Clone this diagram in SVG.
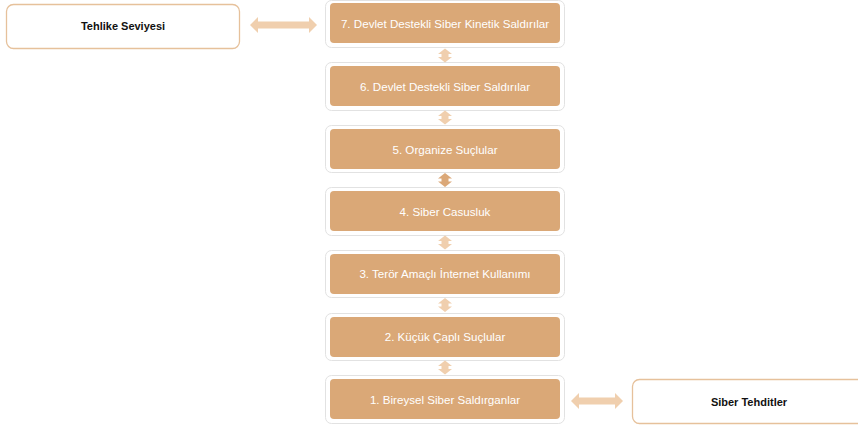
<svg xmlns="http://www.w3.org/2000/svg" width="858" height="426" viewBox="0 0 858 426">
<defs>
<style>
.outer{fill:#ffffff;stroke:#e2e2e2;stroke-width:1}
.inner{fill:#daa877;stroke:none}
.lbl{font-family:"Liberation Sans",Arial,sans-serif;font-size:11.6px;fill:#ffffff;text-anchor:middle;dominant-baseline:central}
.side{fill:#ffffff;stroke:#e6c19b;stroke-width:1.3}
.slbl{font-family:"Liberation Sans",Arial,sans-serif;font-size:11px;font-weight:bold;fill:#111111;text-anchor:middle;dominant-baseline:central}
.arr{fill:#f0cfae}
.arrd{fill:#dba878}
</style>
</defs>
<rect width="858" height="426" fill="#ffffff"/>
<g id="n7"><rect class="outer" x="325.5" y="0.5" width="239" height="47" rx="6"/><rect class="inner" x="330" y="3" width="230" height="40" rx="4"/><text class="lbl" x="445" y="23">7. Devlet Destekli Siber Kinetik Saldırılar</text></g>
<g id="n6"><rect class="outer" x="325.5" y="62.5" width="239" height="48" rx="6"/><rect class="inner" x="330" y="66" width="230" height="40" rx="4"/><text class="lbl" x="445" y="86">6. Devlet Destekli Siber Saldırılar</text></g>
<g id="n5"><rect class="outer" x="325.5" y="125.5" width="239" height="47" rx="6"/><rect class="inner" x="330" y="129" width="230" height="40" rx="4"/><text class="lbl" x="445" y="149">5. Organize Suçlular</text></g>
<g id="n4"><rect class="outer" x="325.5" y="187.5" width="239" height="48" rx="6"/><rect class="inner" x="330" y="191" width="230" height="40" rx="4"/><text class="lbl" x="445" y="211">4. Siber Casusluk</text></g>
<g id="n3"><rect class="outer" x="325.5" y="250.5" width="239" height="47" rx="6"/><rect class="inner" x="330" y="254" width="230" height="40" rx="4"/><text class="lbl" x="445" y="273">3. Terör Amaçlı İnternet Kullanımı</text></g>
<g id="n2"><rect class="outer" x="325.5" y="313.5" width="239" height="47" rx="6"/><rect class="inner" x="330" y="317" width="230" height="40" rx="4"/><text class="lbl" x="445" y="336">2. Küçük Çaplı Suçlular</text></g>
<g id="n1"><rect class="outer" x="325.5" y="375.5" width="239" height="48" rx="6"/><rect class="inner" x="330" y="379" width="230" height="40" rx="4"/><text class="lbl" x="445" y="399">1. Bireysel Siber Saldırganlar</text></g>
<g id="tehlike"><rect class="side" x="6.5" y="4.5" width="233" height="44" rx="7"/><text class="slbl" x="123" y="26">Tehlike Seviyesi</text></g>
<g id="tehditler"><rect class="side" x="632.5" y="379.5" width="232" height="44" rx="7"/><text class="slbl" x="749" y="402">Siber Tehditler</text></g>
<g id="connectors">
<path class="arr" d="M250,25 L258,17 L258,21.5 L309,21.5 L309,17 L317,25 L309,33 L309,28.5 L258,28.5 L258,33 Z"/>
<path class="arr" d="M571,401 L579,393 L579,397.5 L615,397.5 L615,393 L623,401 L615,409 L615,404.5 L579,404.5 L579,409 Z"/>
<path class="arr" d="M445,48.5 L452,54 L448.5,54 L448.5,57 L452,57 L445,62.5 L438,57 L441.5,57 L441.5,54 L438,54 Z"/>
<path class="arr" d="M445,110.5 L452,116 L448.5,116 L448.5,119 L452,119 L445,124.5 L438,119 L441.5,119 L441.5,116 L438,116 Z"/>
<path class="arrd" d="M445,173 L452,178.5 L448.5,178.5 L448.5,181.5 L452,181.5 L445,187 L438,181.5 L441.5,181.5 L441.5,178.5 L438,178.5 Z"/>
<path class="arr" d="M445,235.5 L452,241 L448.5,241 L448.5,244 L452,244 L445,249.5 L438,244 L441.5,244 L441.5,241 L438,241 Z"/>
<path class="arr" d="M445,298 L452,303.5 L448.5,303.5 L448.5,306.5 L452,306.5 L445,312 L438,306.5 L441.5,306.5 L441.5,303.5 L438,303.5 Z"/>
<path class="arr" d="M445,360.5 L452,366 L448.5,366 L448.5,369 L452,369 L445,374.5 L438,369 L441.5,369 L441.5,366 L438,366 Z"/>
</g>
</svg>
